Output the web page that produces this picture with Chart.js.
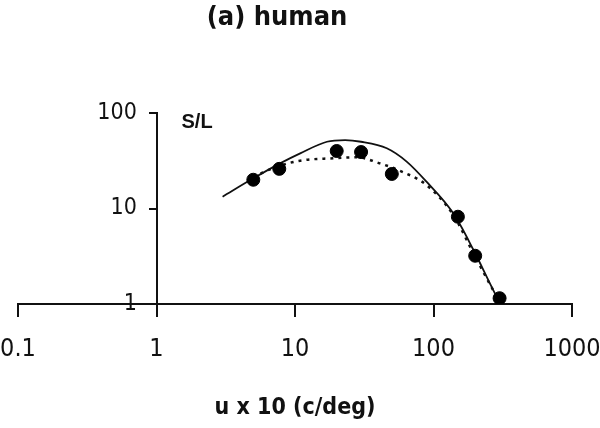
<!DOCTYPE html>
<html>
<head>
<meta charset="utf-8">
<script src="https://cdn.jsdelivr.net/npm/chart.js@4/dist/chart.umd.min.js"></script>
<style>
  html, body { margin: 0; padding: 0; background: #fff; }
  #wrap { width: 600px; height: 428px; }
</style>
</head>
<body>
<div id="wrap"><canvas id="c"></canvas></div>
<script>
"use strict";

/* ── Data ─────────────────────────────────────────────── */
const xTicks = [0.1, 1, 10, 100, 1000];
const yTicks = [1, 10, 100];

// measured points (u x 10, S/L)
const pointX = [5, 7.7, 20, 30, 50, 150, 200, 300];
const pointY = [20, 26, 40, 39, 23, 8.2, 3.2, 1.15];

// solid fit curve
const solidX = [3, 5, 7.8, 10.9, 17, 23, 30, 46, 64, 89, 139, 194, 270, 330];
const solidY = [13.3, 20.7, 29.7, 37.8, 50, 52, 50, 42.7, 31, 19.1, 8.9, 3.7, 1.4, 0.8];

// dotted fit curve
const dashX = [5, 7.4, 10.9, 18.9, 27.9, 41, 57, 89, 139, 194, 278, 330];
const dashY = [21.5, 27.4, 31.7, 33.6, 34.4, 29.7, 24.9, 17.6, 8.55, 3.4, 1.29, 0.85];

const NARROW = "'Liberation Sans Narrow', 'Arial Narrow', 'DejaVu Sans Condensed', sans-serif";

const toXY = (xs, ys) => xs.map((x, i) => ({ x, y: ys[i] }));

/* ── Free text (panel title, S/L) ─────────────────────── */
const freeText = {
  id: "freeText",
  afterDraw(chart) {
    const ctx = chart.ctx;
    const xs = chart.scales.x;
    ctx.save();
    ctx.fillStyle = "#111";
    ctx.textBaseline = "middle";
    ctx.textAlign = "center";
    ctx.font = "bold 27px " + NARROW;
    ctx.fillText("(a) human", 277, 18);
    ctx.textAlign = "left";
    ctx.font = "bold 20px 'Liberation Sans', Arial, sans-serif";
    ctx.fillText("S/L", xs.getPixelForValue(1) + 25, chart.chartArea.top + 9);
    ctx.restore();
  },
};

new Chart(document.getElementById("c"), {
  type: "scatter",
  data: {
    datasets: [
      {
        label: "data",
        data: toXY(pointX, pointY),
        backgroundColor: "#000",
        borderColor: "#000",
        pointRadius: 6.5,
        pointHoverRadius: 6.5,
      },
      {
        label: "fit 1",
        type: "line",
        data: toXY(solidX, solidY),
        borderColor: "#111",
        borderWidth: 1.8,
        pointRadius: 0,
        fill: false,
        cubicInterpolationMode: "monotone",
      },
      {
        label: "fit 2",
        type: "line",
        data: toXY(dashX, dashY),
        borderColor: "#111",
        borderWidth: 2.5,
        borderDash: [3, 5],
        pointRadius: 0,
        fill: false,
        cubicInterpolationMode: "monotone",
      },
    ],
  },
  options: {
    responsive: true,
    maintainAspectRatio: false,
    animation: false,
    layout: { padding: { left: 18, right: 28, top: 113, bottom: 0 } },
    plugins: {
      legend: { display: false },
      tooltip: { enabled: false },
    },
    scales: {
      x: {
        type: "logarithmic",
        position: "bottom",
        min: 0.1,
        max: 1000,
        afterBuildTicks: (s) => { s.ticks = xTicks.map((v) => ({ value: v })); },
        afterFit: (s) => {
          s.height = 124;
          s.paddingLeft = 0;
          s.paddingRight = 0;
        },
        ticks: {
          color: "#111",
          padding: 17,
          maxRotation: 0,
          font: { family: NARROW, size: 25 },
          callback: (v) => String(v),
        },
        grid: {
          drawOnChartArea: false,
          drawTicks: true,
          tickLength: 13,
          color: "#111",
          lineWidth: 2,
        },
        border: { display: true, color: "#111", width: 2 },
        title: {
          display: true,
          text: "u x 10 (c/deg)",
          color: "#111",
          font: { family: NARROW, size: 23, weight: "bold" },
          padding: { top: 0, bottom: 6 },
        },
      },
      y: {
        type: "logarithmic",
        position: { x: 1 },
        min: 1,
        max: 100,
        afterBuildTicks: (s) => { s.ticks = yTicks.map((v) => ({ value: v })); },
        ticks: {
          color: "#111",
          font: { family: NARROW, size: 23 },
          // axis sits inside the plot, so labels are pushed off it by hand
          callback: (v) => String(v) + "   ",
        },
        grid: {
          drawOnChartArea: false,
          drawTicks: true,
          tickLength: 7,
          color: "#111",
          lineWidth: 2,
        },
        border: { display: true, color: "#111", width: 2 },
      },
    },
  },
  plugins: [freeText],
});
</script>
</body>
</html>
